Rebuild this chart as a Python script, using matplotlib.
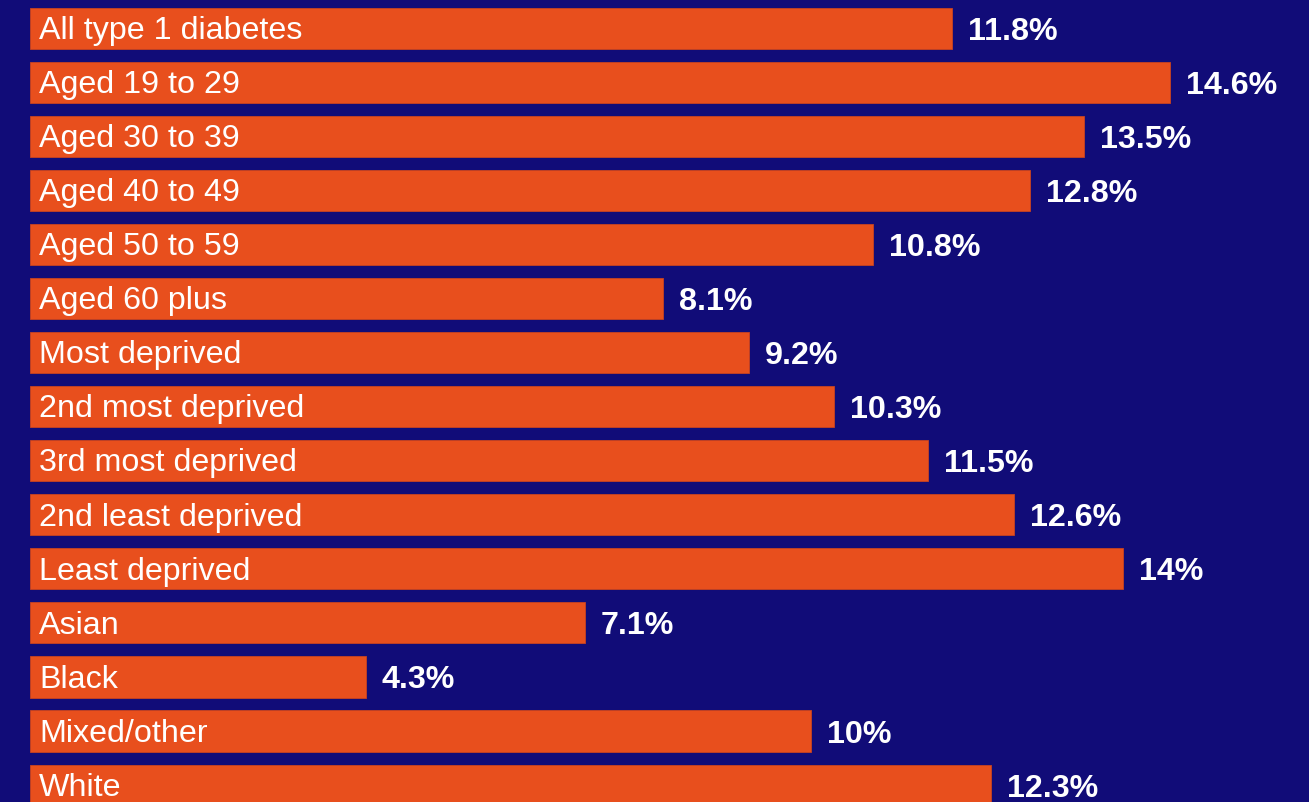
import matplotlib
matplotlib.use("Agg")
import matplotlib.pyplot as plt

# Share of people with type 1 diabetes, by group
categories = [
    "All type 1 diabetes",
    "Aged 19 to 29",
    "Aged 30 to 39",
    "Aged 40 to 49",
    "Aged 50 to 59",
    "Aged 60 plus",
    "Most deprived",
    "2nd most deprived",
    "3rd most deprived",
    "2nd least deprived",
    "Least deprived",
    "Asian",
    "Black",
    "Mixed/other",
    "White",
]
values = [11.8, 14.6, 13.5, 12.8, 10.8, 8.1, 9.2, 10.3, 11.5, 12.6, 14.0, 7.1, 4.3, 10.0, 12.3]

BG = "#110c78"
BAR = "#e84f1d"

plt.rcParams["font.family"] = ["Liberation Sans", "DejaVu Sans"]

fig = plt.figure(figsize=(13.09, 8.03), dpi=100, facecolor=BG)
ax = fig.add_axes([0, 0, 1, 1])
ax.set_facecolor(BG)

ypos = list(range(len(categories)))
ax.barh(ypos, values, height=0.76, color=BAR, edgecolor="#c8431f", linewidth=0.6)

for y, name, v in zip(ypos, categories, values):
    ax.annotate(name, xy=(0, y), xytext=(6.5, -1.2), textcoords="offset points",
                ha="left", va="center", color="white", fontsize=23.2)
    ax.annotate(f"{v:g}%", xy=(v, y), xytext=(11.5, -1.8), textcoords="offset points",
                ha="left", va="center", color="white", fontsize=23.2, fontweight="bold")

ax.set_xlim(-0.384, 16.376)
ax.set_ylim(14.313, -0.544)
ax.axis("off")

fig.savefig("out.png", dpi=100, facecolor=BG)
